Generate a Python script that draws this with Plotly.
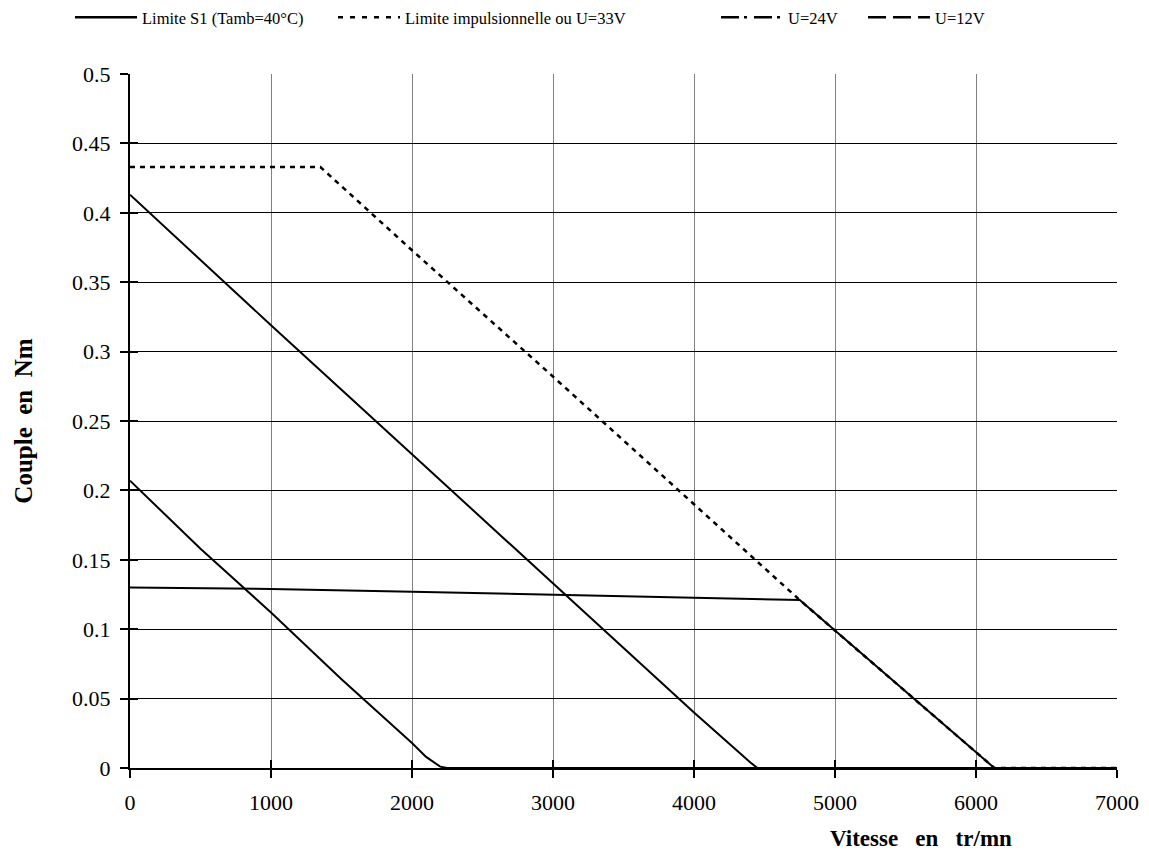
import plotly.graph_objects as go

# ---- data ----
s1_x = [0, 1000, 2000, 3000, 4000, 4750, 5000, 5500, 6000, 6130, 7000]
s1_y = [0.130, 0.129, 0.127, 0.125, 0.123, 0.121, 0.099, 0.055, 0.011, 0.0, 0.0]

u33_x = [0, 1350, 2000, 3000, 4000, 4750, 5000, 5500, 6000, 6130, 7000]
u33_y = [0.433, 0.433, 0.373, 0.282, 0.190, 0.121, 0.099, 0.055, 0.011, 0.0, 0.0]

u24_x = [0, 1000, 2000, 3000, 4000, 4400, 4450, 7000]
u24_y = [0.413, 0.319, 0.226, 0.133, 0.040, 0.004, 0.0, 0.0]

u12_x = [0, 500, 1000, 1500, 2000, 2100, 2200, 2250, 7000]
u12_y = [0.207, 0.158, 0.112, 0.064, 0.018, 0.008, 0.001, 0.0, 0.0]

x_ticks = [0, 1000, 2000, 3000, 4000, 5000, 6000, 7000]
y_ticks = [0, 0.05, 0.1, 0.15, 0.2, 0.25, 0.3, 0.35, 0.4, 0.45, 0.5]
y_tick_text = ["0", "0.05", "0.1", "0.15", "0.2", "0.25", "0.3", "0.35", "0.4", "0.45", "0.5"]

names = ["Limite S1 (Tamb=40°C)", "Limite impulsionnelle ou U=33V", "U=24V", "U=12V"]

FONT = "Liberation Serif"

fig = go.Figure()

# data traces (drawn, no legend)
fig.add_trace(go.Scatter(x=u33_x, y=u33_y, mode="lines", showlegend=False,
                         line=dict(color="black", width=2.5, dash="5px,5px")))
fig.add_trace(go.Scatter(x=u24_x, y=u24_y, mode="lines", showlegend=False,
                         line=dict(color="black", width=2)))
fig.add_trace(go.Scatter(x=u12_x, y=u12_y, mode="lines", showlegend=False,
                         line=dict(color="black", width=2)))
fig.add_trace(go.Scatter(x=s1_x, y=s1_y, mode="lines", showlegend=False,
                         line=dict(color="black", width=2)))

# legend-only entries, each in its own legend box
leg_styles = ["solid", "5px,7px", "18px,5px,3px,7px", "18px,7px"]
leg_ids = ["legend", "legend2", "legend3", "legend4"]
leg_x = [70, 333, 716, 863]
for nm, ds, lid in zip(names, leg_styles, leg_ids):
    fig.add_trace(go.Scatter(x=[None], y=[None], mode="lines", name=nm, legend=lid,
                             line=dict(color="black", width=2.5, dash=ds)))

# invisible trace on overlay axes to draw inner half of cross ticks
fig.add_trace(go.Scatter(x=[None], y=[None], xaxis="x2", yaxis="y2",
                         showlegend=False, hoverinfo="skip"))

tickfont = dict(family=FONT, size=22, color="black")


def legend_box(xpx):
    return dict(orientation="h", xref="container", yref="container",
                x=xpx / 1149, xanchor="left", y=1.0, yanchor="top",
                font=dict(family=FONT, size=16.5, color="black"),
                itemwidth=62, bgcolor="rgba(0,0,0,0)")


fig.update_layout(
    width=1149, height=861,
    paper_bgcolor="white", plot_bgcolor="white",
    margin=dict(l=130, r=32, t=74, b=93, autoexpand=False),
    font=dict(family=FONT, color="black"),
    showlegend=True,
    legend=legend_box(leg_x[0]),
    legend2=legend_box(leg_x[1]),
    legend3=legend_box(leg_x[2]),
    legend4=legend_box(leg_x[3]),
    xaxis=dict(
        range=[0, 7000], tickvals=x_ticks, ticktext=[str(v) for v in x_ticks],
        showgrid=True, gridcolor="#808080", gridwidth=1,
        showline=True, linecolor="black", linewidth=2,
        ticks="outside", ticklen=8, tickwidth=2, tickcolor="black",
        ticklabelstandoff=6,
        tickfont=tickfont, zeroline=False, fixedrange=True,
    ),
    yaxis=dict(
        range=[0, 0.5], tickvals=y_ticks, ticktext=y_tick_text,
        showgrid=True, gridcolor="black", gridwidth=1,
        showline=True, linecolor="black", linewidth=2,
        ticks="outside", ticklen=8, tickwidth=2, tickcolor="black",
        ticklabelstandoff=5,
        tickfont=tickfont, zeroline=False, fixedrange=True,
        title=dict(text="<b>Couple\u00a0\u00a0en\u00a0\u00a0Nm</b>",
                   font=dict(family=FONT, size=25, color="black"), standoff=32),
    ),
    xaxis2=dict(overlaying="x", anchor="y2", range=[0, 7000], tickvals=x_ticks,
                showticklabels=False, showgrid=False, showline=False, zeroline=False,
                ticks="inside", ticklen=8, tickwidth=2, tickcolor="black",
                fixedrange=True),
    yaxis2=dict(overlaying="y", anchor="x2", range=[0, 0.5], tickvals=y_ticks,
                showticklabels=False, showgrid=False, showline=False, zeroline=False,
                ticks="inside", ticklen=8, tickwidth=2, tickcolor="black",
                fixedrange=True),
)

fig.add_annotation(
    text="<b>Vitesse\u00a0\u00a0\u00a0en\u00a0\u00a0\u00a0tr/mn</b>",
    xref="paper", yref="paper", x=(921 - 130) / 987, y=-(838 - 768) / 694,
    xanchor="center", yanchor="middle", showarrow=False,
    font=dict(family=FONT, size=23, color="black"),
)

fig.write_html("out.html")
